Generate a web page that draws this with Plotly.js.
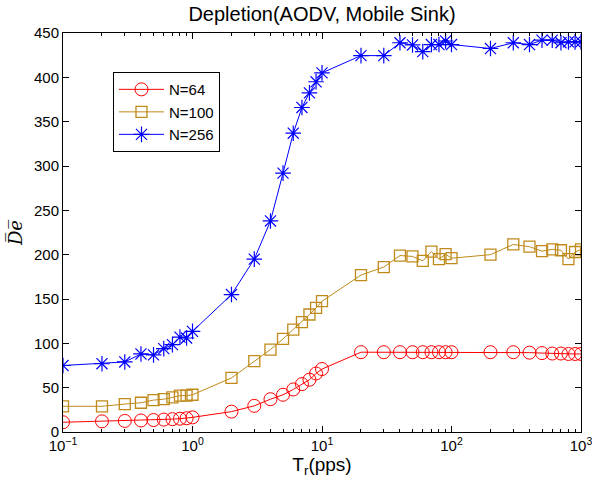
<!DOCTYPE html>
<html><head><meta charset="utf-8">
<script src="https://cdn.plot.ly/plotly-3.0.1.min.js"></script>
<style>body{margin:0;background:#fff}#c{width:592px;height:483px}</style>
</head><body><div id="c"></div>
<script>
const xVals = [0.1,0.2,0.3,0.4,0.5,0.6,0.7,0.8,0.9,1,2,3,4,5,6,7,8,9,10,20,30,40,50,60,70,80,90,100,200,300,400,500,600,700,800,900,1000];
const n64 = [11,12,12.5,13,13.5,14,14.5,15,15.5,16.5,23,29.5,37,42,48,54,59,66,71,90,90,90,90,90,90,90,90,90,90,90,89.5,89,88.5,88.5,88,88,88];
const n100 = [29,29,31.5,33,36,37,39,41,41,42,61,80,93,105,115.5,124,132.5,140,147.5,177,186,199,198,193,203.5,195,200.5,196,200,211.5,209,204,206,205,195,203,206];
const n256 = [75,77,79,88,87,94,98.5,107,106,113.5,155,195,238,292,337,366,382.5,395,405,424.5,424.5,439,436.5,429,437,437,441,437,432.5,439,437,442,442,439,440,440,440];
const seriesNames = ['N=64','N=100','N=256'];
const majorTicks = [0.1,1,10,100,1000];
const majorText = ['10<sup>\u22121</sup>','10<sup>0</sup>','10<sup>1</sup>','10<sup>2</sup>','10<sup>3</sup>'];
const minorTicks = [];
[0.1,1,10,100].forEach(d=>{for(let k=2;k<=9;k++) minorTicks.push(d*k);});

const fnt = {family:'Liberation Sans, Arial, sans-serif', color:'#000'};
const traces = [
  {x:xVals, y:n64, name:seriesNames[0], mode:'lines+markers', line:{color:'#ff0000',width:1},
   marker:{symbol:'circle-open', size:13, color:'#ff0000', line:{width:1}}},
  {x:xVals, y:n100, name:seriesNames[1], mode:'lines+markers', line:{color:'#bf8a1a',width:1},
   marker:{symbol:'square-open', size:11, color:'#bf8a1a', line:{width:1.3}}},
  {x:xVals, y:n256, name:seriesNames[2], mode:'lines+markers', line:{color:'#0000ff',width:1},
   marker:{symbol:'asterisk-open', size:13, color:'#0000ff', line:{width:1.2, color:'#0000ff'}}}
];
const layout = {
  width:592, height:483,
  margin:{l:63, r:11, t:33, b:51},
  paper_bgcolor:'#fff', plot_bgcolor:'#fff',
  font:Object.assign({size:14}, fnt),
  title:{text:'Depletion(AODV, Mobile Sink)', font:Object.assign({size:20}, fnt), x:0.5, xref:'paper', xanchor:'center', y:0.972, yanchor:'middle'},
  showlegend:true,
  legend:{x:0.0965, y:0.902, xanchor:'left', yanchor:'top', bgcolor:'#fff', bordercolor:'#000', borderwidth:1,
    font:Object.assign({size:15}, fnt), tracegroupgap:0, itemwidth:45},
  xaxis:{type:'log', range:[-1,3], tickmode:'array', tickvals:majorTicks, ticktext:majorText,
    ticklabeloverflow:'allow',
    ticks:'inside', ticklen:6, tickcolor:'#000', showline:true, linecolor:'#000', linewidth:1, mirror:'allticks',
    showgrid:false, zeroline:false, tickfont:Object.assign({size:15}, fnt),
    minor:{tickvals:minorTicks, ticks:'inside', ticklen:3, tickcolor:'#000', showgrid:false},
    title:{text:'T<sub>r</sub>(pps)', font:Object.assign({size:19}, fnt), standoff:2}},
  yaxis:{range:[0,450], dtick:50, tick0:0, ticks:'inside', ticklen:6, tickcolor:'#000', showline:true,
    linecolor:'#000', linewidth:1, mirror:'allticks', showgrid:false, zeroline:false,
    tickfont:Object.assign({size:15}, fnt),
    title:{text:'<i>D\u0305e\u0305</i>', font:{family:'DejaVu Serif, serif', size:18, color:'#000'}, standoff:6}}
};
Plotly.newPlot('c', traces, layout, {displayModeBar:false, staticPlot:true});
</script></body></html>
